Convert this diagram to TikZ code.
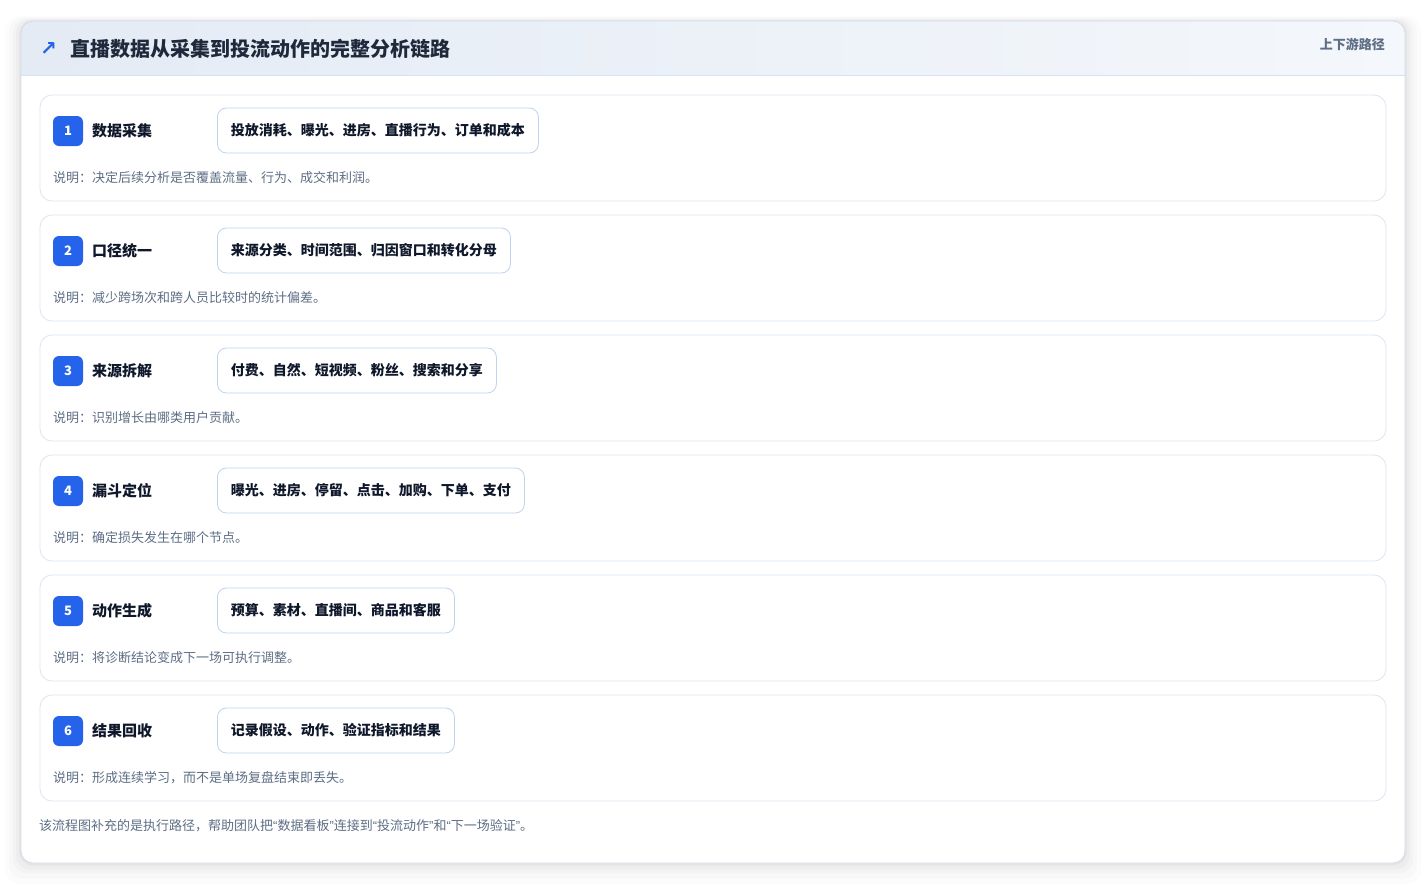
\documentclass[tikz,border=0pt]{standalone}
\usepackage{fontspec}
\setmainfont{Noto Sans CJK SC}
\newfontfamily\symfont{DejaVu Sans}
\newfontfamily\qfont{Liberation Sans}
\newcommand{\myopenq}{{\qfont “}}
\newcommand{\mycloseq}{{\qfont ”}}
\usetikzlibrary{positioning}
\definecolor{badgeblue}{HTML}{2563EB}
\definecolor{titleink}{HTML}{1E293B}
\definecolor{ink}{HTML}{0F172A}
\definecolor{muted}{HTML}{5E6E85}
\definecolor{rowborder}{HTML}{DCE6F2}
\definecolor{pillborder}{HTML}{BFD2EE}
\definecolor{cardborder}{HTML}{D3DBE6}
\definecolor{headL}{HTML}{E4EBF5}
\definecolor{headR}{HTML}{F4F7FB}
\definecolor{headline}{HTML}{D6E2F1}
\tikzset{
  rowbox/.style={draw=rowborder, line width=0.8pt, fill=white, rounded corners=12pt},
  badge/.style={fill=badgeblue, rounded corners=6pt, minimum width=30pt, minimum height=30pt, inner sep=0pt, text=white, font=\fontsize{13}{15}\selectfont\bfseries},
  steplabel/.style={anchor=west, inner sep=0pt, text=ink, font=\fontsize{15}{17}\selectfont\bfseries},
  pill/.style={anchor=west, draw=pillborder, line width=0.8pt, fill=white, rounded corners=9pt, minimum height=45pt, inner xsep=13.5pt, text=ink, font=\fontsize{14}{16}\selectfont\bfseries},
  note/.style={anchor=west, inner sep=0pt, text=muted, font=\fontsize{13}{15}\selectfont},
}
\begin{document}
\begin{tikzpicture}[x=1pt,y=-1pt]
\useasboundingbox (0,0) rectangle (1426,884);
\fill[white] (0,0) rectangle (1426,884);
% card shadow
\foreach \i/\o in {16/0.012,12/0.016,8/0.02,5/0.025,2/0.03}{
  \fill[black,opacity=\o, rounded corners=14pt] (21-\i,21-\i*0.3) rectangle (1405+\i,863+\i*1.3);
}
\fill[white, rounded corners=12pt] (21,21) rectangle (1405,863);
% header
\begin{scope}
  \clip[rounded corners=12pt] (21,21) rectangle (1405,863);
  \shade[left color=headL, right color=headR] (21,21) rectangle (1405,75);
\end{scope}
\draw[headline, line width=0.8pt] (21,75) -- (1405,75);
\draw[cardborder, line width=0.8pt, rounded corners=12pt] (21,21) rectangle (1405,863);
\node[anchor=west, inner sep=0pt, text=badgeblue, font=\symfont\bfseries\fontsize{20}{22}\selectfont] (icon) at (40,49) {↗};
\node[anchor=west, inner sep=0pt, text=titleink, font=\fontsize{20}{24}\selectfont\bfseries] (title) at (70,49) {直播数据从采集到投流动作的完整分析链路};
\node[anchor=east, inner sep=0pt, text=muted, font=\fontsize{13}{15}\selectfont\bfseries] (tag) at (1385,44) {上下游路径};
% rows
\foreach \n/\lab/\pilltext/\desc [count=\k from 0] in {
  1/数据采集/投放消耗、曝光、进房、直播行为、订单和成本/说明：决定后续分析是否覆盖流量、行为、成交和利润。,
  2/口径统一/来源分类、时间范围、归因窗口和转化分母/说明：减少跨场次和跨人员比较时的统计偏差。,
  3/来源拆解/付费、自然、短视频、粉丝、搜索和分享/说明：识别增长由哪类用户贡献。,
  4/漏斗定位/曝光、进房、停留、点击、加购、下单、支付/说明：确定损失发生在哪个节点。,
  5/动作生成/预算、素材、直播间、商品和客服/说明：将诊断结论变成下一场可执行调整。,
  6/结果回收/记录假设、动作、验证指标和结果/说明：形成连续学习，而不是单场复盘结束即丢失。}{
  \pgfmathsetmacro{\top}{95+120*\k}
  \draw[rowbox] (40,\top) rectangle (1386,\top+106);
  \node[badge] (b\n) at (68,\top+36) {\n};
  \node[steplabel] (l\n) at (92,\top+36) {\lab};
  \node[pill] (p\n) at (217,\top+35.5) {\pilltext};
  \node[note] (d\n) at (53,\top+83) {\desc};
}
\node[anchor=west, inner sep=0pt, text=muted, font=\fontsize{13}{15}\selectfont] (foot) at (39,826) {该流程图补充的是执行路径，帮助团队把\myopenq 数据看板\mycloseq 连接到\myopenq 投流动作\mycloseq 和\myopenq 下一场验证\mycloseq 。};
\end{tikzpicture}
\end{document}
